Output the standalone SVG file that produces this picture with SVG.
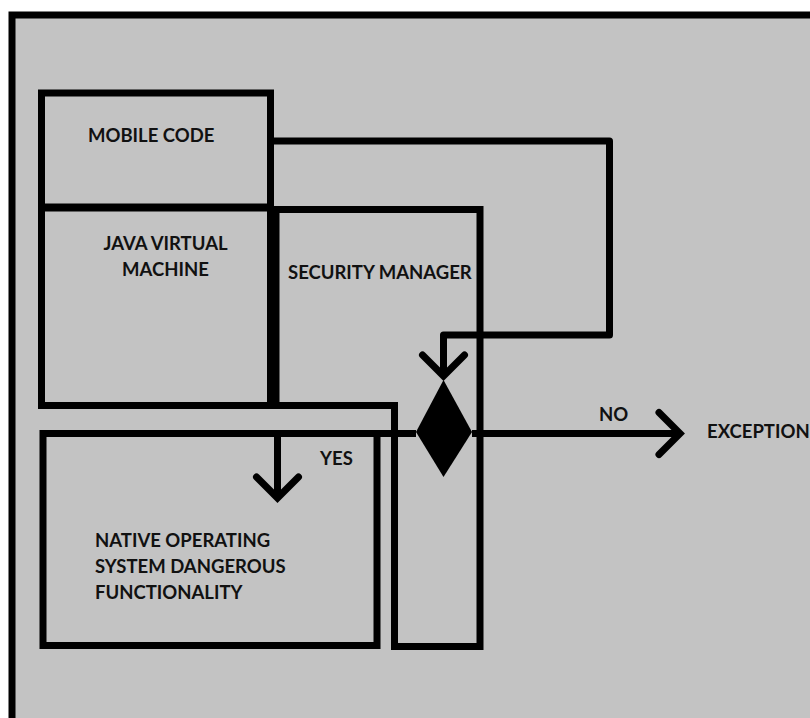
<svg xmlns="http://www.w3.org/2000/svg" width="810" height="718" viewBox="0 0 810 718">
<style>
.box{fill:none;stroke:#000;stroke-width:7;stroke-linejoin:miter}
.wire{fill:none;stroke:#000;stroke-width:7;stroke-linejoin:round}
.lbl{font-family:Lato,"Liberation Sans",sans-serif;font-weight:bold;font-size:18.5px;fill:#111}
</style>
<defs>
<marker id="chev" markerUnits="userSpaceOnUse" orient="auto" refX="0" refY="0" markerWidth="1" markerHeight="1" style="overflow:visible">
<path d="M-21,-21 L0,0 L-21,21" fill="none" stroke="#000" stroke-width="7" stroke-linecap="round" stroke-linejoin="miter"/>
</marker>
</defs>
<rect x="0" y="0" width="810" height="718" fill="#fff"/>
<g id="frame">
<rect x="12" y="15" width="830" height="730" fill="#c3c3c3" stroke="#000" stroke-width="7"/>
</g>
<g id="mobile-code">
<rect class="box" x="41.5" y="93" width="229" height="114"/>
<text class="lbl" x="88" y="142">MOBILE CODE</text>
</g>
<g id="jvm">
<rect class="box" x="41.5" y="208" width="229" height="197.5"/>
<text class="lbl" x="165.5" y="250" text-anchor="middle">JAVA VIRTUAL</text>
<text class="lbl" x="165.5" y="276" text-anchor="middle">MACHINE</text>
</g>
<g id="security-manager">
<path class="box" d="M276,405.5 V209.5 H480 V646.5 H394.5 V405.5 Z"/>
<text class="lbl" x="288" y="279">SECURITY MANAGER</text>
</g>
<g id="native-os">
<rect class="box" x="43" y="433.5" width="334" height="212"/>
<text class="lbl" x="95" y="547">NATIVE OPERATING</text>
<text class="lbl" x="95" y="573">SYSTEM DANGEROUS</text>
<text class="lbl" x="95" y="599">FUNCTIONALITY</text>
</g>
<g id="decision">
<polygon points="443.5,380 472,432 443.5,477 416,432" fill="#000"/>
</g>
<g id="exception">
<text class="lbl" x="707" y="438">EXCEPTION</text>
</g>
<g id="connectors">
<path class="wire" d="M274,141 H609.5 V335 H443.5 V376" marker-end="url(#chev)"/>
<path class="wire" d="M416,433.5 H277.5 V498" marker-end="url(#chev)"/>
<path class="wire" d="M472,433.5 H680" marker-end="url(#chev)"/>
<text class="lbl" x="320" y="465">YES</text>
<text class="lbl" x="599" y="421">NO</text>
</g>
</svg>
